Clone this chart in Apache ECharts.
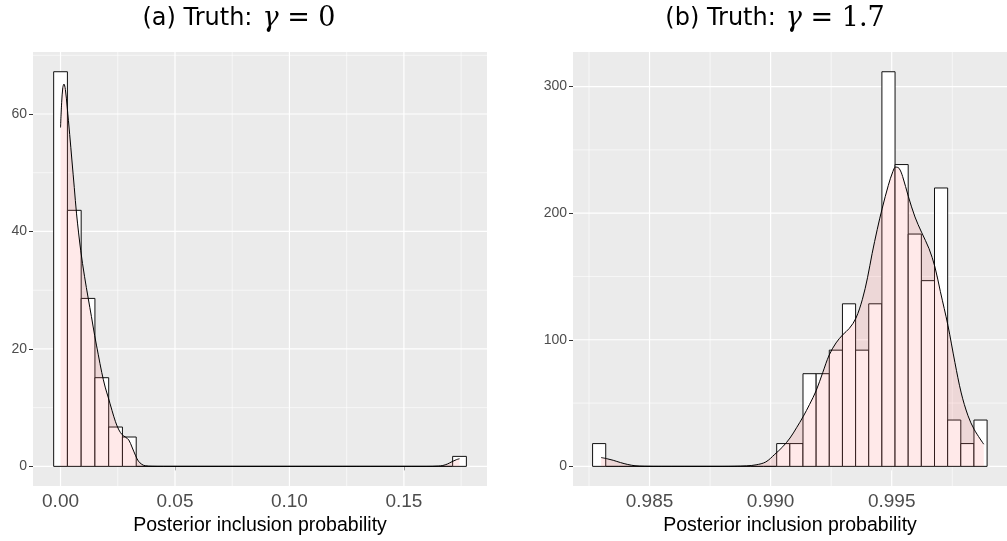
<!DOCTYPE html>
<html><head><meta charset="utf-8">
<script src="https://cdn.jsdelivr.net/npm/echarts@6/dist/echarts.min.js"></script>
<style>html,body{margin:0;padding:0;background:#fff}#c{width:1007px;height:541px}</style>
</head><body><div id="c"></div><script>
// ---------- Panel (a): Truth gamma = 0 ----------
const aBinFirstCenter = 0.0;
const aBinWidth = 0.00601;
const aHist = [67.2, 43.6, 28.6, 15.1, 6.7, 5.0, 0, 0, 0, 0, 0, 0, 0, 0, 0, 0, 0, 0, 0, 0, 0, 0, 0, 0, 0, 0, 0, 0, 0, 1.7];
const aDensX = [0.0000, 0.0005, 0.0010, 0.0015, 0.0021, 0.0029, 0.0040, 0.0050, 0.0060, 0.0070, 0.0088, 0.0105, 0.0121, 0.0135, 0.0149, 0.0165, 0.0180, 0.0195, 0.0208, 0.0225, 0.0240, 0.0255, 0.0269, 0.0283, 0.0298, 0.0312, 0.0327, 0.0340, 0.0355, 0.0370, 0.0400, 0.0450, 0.1600, 0.1650, 0.1670, 0.1690, 0.1710, 0.1730, 0.1743];
const aDensY = [57.7, 62.0, 64.5, 65.1, 64.2, 61.2, 56.5, 52.0, 47.5, 43.0, 36.8, 32.3, 28.6, 25.5, 22.3, 19.0, 16.0, 13.5, 11.8, 9.5, 7.6, 6.2, 5.4, 5.0, 4.5, 3.3, 1.9, 0.9, 0.35, 0.1, 0.02, 0, 0, 0.05, 0.15, 0.4, 0.8, 1.15, 1.3];
const aXTicks = [0, 0.05, 0.10, 0.15];
const aXMinor = [0.025, 0.075, 0.125, 0.175];
const aYTicks = [0, 20, 40, 60];
const aYMinor = [10, 30, 50, 70];
const aRange = {xmin: -0.01203, xmax: 0.1863, ymin: -3.36, ymax: 70.56};

// ---------- Panel (b): Truth gamma = 1.7 ----------
const bBinFirstCenter = 0.98292;
const bBinWidth = 0.000543;
const bHist = [18.0, 0, 0, 0, 0, 0, 0, 0, 0, 0, 0, 0, 0, 0, 18.0, 18.0, 73.2, 73.2, 91.8, 128.4, 91.8, 128.4, 311.7, 238.4, 183.5, 146.7, 219.9, 36.6, 18.0, 36.6];
const bDensX = [0.98300, 0.98325, 0.98350, 0.98380, 0.98410, 0.98440, 0.98480, 0.98550, 0.98800, 0.98850, 0.98900, 0.98940, 0.98980, 0.99017, 0.99050, 0.99080, 0.99107, 0.99134, 0.99161, 0.99188, 0.99215, 0.99242, 0.99270, 0.99298, 0.99325, 0.99352, 0.99379, 0.99400, 0.99419, 0.99440, 0.99461, 0.99486, 0.99505, 0.99516, 0.99530, 0.99545, 0.99569, 0.99596, 0.99623, 0.99654, 0.99678, 0.99701, 0.99732, 0.99761, 0.99787, 0.99815, 0.99841, 0.99880];
const bDensY = [7.0, 6.0, 4.8, 3.0, 1.5, 0.5, 0.1, 0, 0, 0.1, 0.4, 1.2, 3.5, 9.5, 15.5, 22.4, 30.5, 39.2, 49.0, 59.8, 74.0, 88.0, 97.5, 104.0, 109.0, 117.0, 132.0, 149.0, 168.0, 187.0, 204.0, 222.0, 233.0, 236.4, 235.5, 229.0, 213.0, 197.0, 185.0, 172.0, 157.8, 138.0, 111.4, 82.0, 58.0, 40.0, 29.0, 17.5];
const bXTicks = [0.985, 0.990, 0.995];
const bXMinor = [0.9825, 0.9875, 0.9925, 0.9975];
const bYTicks = [0, 100, 200, 300];
const bYMinor = [50, 150, 250];
const bRange = {xmin: 0.98184, xmax: 0.99976, ymin: -15.585, ymax: 327.3};

const xTitle = 'Posterior inclusion probability';

function histData(first, w, h) {
  return h.map((v, i) => [first + i * w - w / 2, first + i * w + w / 2, v]);
}
function zip(xs, ys) { return xs.map((x, i) => [x, ys[i]]); }
function gridLineData(xMaj, xMin, yMaj, yMin) {
  const d = [];
  xMin.forEach(v => d.push([v, 0, 0]));
  yMin.forEach(v => d.push([v, 1, 0]));
  xMaj.forEach(v => d.push([v, 0, 1]));
  yMaj.forEach(v => d.push([v, 1, 1]));
  return d;
}

function gridSeries(idx, range, data) {
  return {
    type: 'custom', xAxisIndex: idx, yAxisIndex: idx, silent: true, z: 1,
    encode: {x: 0},
    data: data,
    renderItem: function (params, api) {
      const v = api.value(0), orient = api.value(1), major = api.value(2);
      const cs = params.coordSys;
      let shape;
      if (orient === 0) {
        const x = api.coord([v, range.ymin])[0];
        shape = {x1: x, y1: cs.y, x2: x, y2: cs.y + cs.height};
      } else {
        const y = api.coord([range.xmin, v])[1];
        shape = {x1: cs.x, y1: y, x2: cs.x + cs.width, y2: y};
      }
      return {type: 'line', shape: shape, style: {stroke: '#FFFFFF', lineWidth: major ? 1.2 : 0.6}};
    }
  };
}
function histSeries(idx, data) {
  return {
    type: 'custom', xAxisIndex: idx, yAxisIndex: idx, silent: true, z: 2,
    encode: {x: [0, 1], y: 2},
    data: data,
    renderItem: function (params, api) {
      const p0 = api.coord([api.value(0), api.value(2)]);
      const p1 = api.coord([api.value(1), 0]);
      return {type: 'rect', shape: {x: p0[0], y: p0[1], width: p1[0] - p0[0], height: p1[1] - p0[1]},
        style: {fill: '#FFFFFF', stroke: '#111111', lineWidth: 1}};
    }
  };
}
function densSeries(idx, data) {
  return {
    type: 'line', xAxisIndex: idx, yAxisIndex: idx, silent: true, z: 3,
    data: data, symbol: 'none', smooth: 0.35,
    lineStyle: {color: '#000000', width: 1},
    areaStyle: {color: 'rgba(255,102,102,0.2)', origin: 0}
  };
}
function xAxisDef(idx, range, ticks, digits) {
  return {
    type: 'value', gridIndex: idx, min: range.xmin, max: range.xmax,
    splitLine: {show: false}, axisLine: {show: false},
    axisTick: {show: true, length: 4, lineStyle: {color: '#333333', width: 1}, customValues: ticks},
    axisLabel: {customValues: ticks, color: '#4D4D4D', fontSize: 19, fontFamily: 'Liberation Sans, Arial, sans-serif', margin: 6,
      formatter: v => Number(v).toFixed(digits)},
    name: xTitle, nameLocation: 'middle', nameGap: 24,
    nameTextStyle: {color: '#000000', fontSize: 19.5, fontFamily: 'Liberation Sans, Arial, sans-serif'}
  };
}
function yAxisDef(idx, range, ticks) {
  return {
    type: 'value', gridIndex: idx, min: range.ymin, max: range.ymax, position: 'left',
    splitLine: {show: false}, axisLine: {show: false, onZero: false},
    axisTick: {show: true, length: 4, lineStyle: {color: '#333333', width: 1}, customValues: ticks},
    axisLabel: {customValues: ticks, color: '#4D4D4D', fontSize: 14, fontFamily: 'Liberation Sans, Arial, sans-serif', margin: 6,
      formatter: v => String(Math.round(v))}
  };
}

const titleRich = {
  s: {fontFamily: 'DejaVu Sans', fontSize: 24, color: '#000'},
  m: {fontFamily: 'DejaVu Serif', fontStyle: 'italic', fontSize: 27, color: '#000'},
  r: {fontFamily: 'DejaVu Serif', fontSize: 27, color: '#000'}
};

const chart = echarts.init(document.getElementById('c'), null, {renderer: 'canvas'});
chart.setOption({
  animation: false,
  backgroundColor: '#FFFFFF',
  graphic: [
    {type: 'text', x: 239, y: 19, style: {text: '{s|(a) Truth:}   {m|γ}{r| = 0}', rich: titleRich, align: 'center', verticalAlign: 'middle'}},
    {type: 'text', x: 775, y: 19, style: {text: '{s|(b) Truth:}   {m|γ}{r| = 1.7}', rich: titleRich, align: 'center', verticalAlign: 'middle'}}
  ],
  grid: [
    {left: 33, right: 520, top: 52, bottom: 47, show: true, backgroundColor: '#EBEBEB', borderWidth: 0, containLabel: false},
    {left: 573, right: -11, top: 52, bottom: 47, show: true, backgroundColor: '#EBEBEB', borderWidth: 0, containLabel: false}
  ],
  xAxis: [xAxisDef(0, aRange, aXTicks, 2), xAxisDef(1, bRange, bXTicks, 3)],
  yAxis: [yAxisDef(0, aRange, aYTicks), yAxisDef(1, bRange, bYTicks)],
  series: [
    gridSeries(0, aRange, gridLineData(aXTicks, aXMinor, aYTicks, aYMinor)),
    histSeries(0, histData(aBinFirstCenter, aBinWidth, aHist)),
    densSeries(0, zip(aDensX, aDensY)),
    gridSeries(1, bRange, gridLineData(bXTicks, bXMinor, bYTicks, bYMinor)),
    histSeries(1, histData(bBinFirstCenter, bBinWidth, bHist)),
    densSeries(1, zip(bDensX, bDensY))
  ]
});
</script></body></html>
